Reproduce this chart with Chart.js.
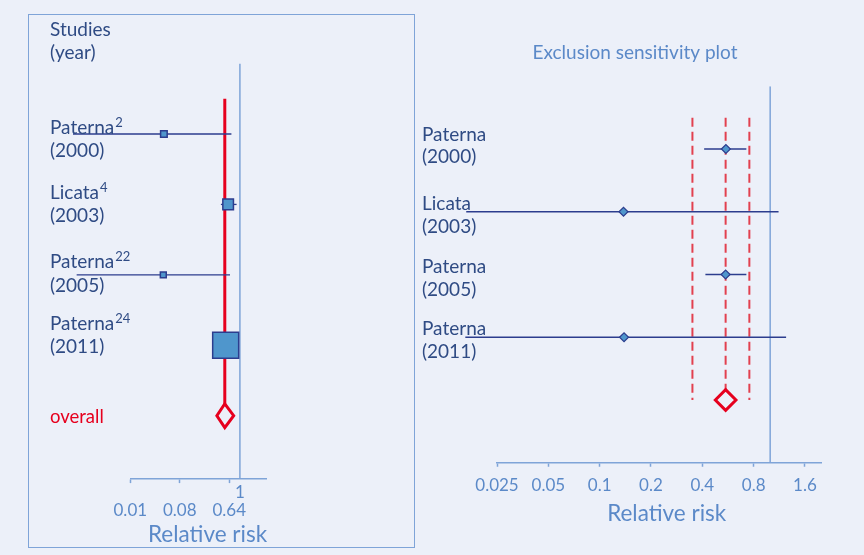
<!DOCTYPE html>
<html lang="en">
<head>
<meta charset="utf-8">
<title>Forest plot and exclusion sensitivity plot</title>
<script src="https://cdn.jsdelivr.net/npm/chart.js@4.4.1/dist/chart.umd.min.js"></script>
<style>
  html, body { margin: 0; padding: 0; background: #ECF0F9; }
  body { position: relative; width: 864px; height: 555px; overflow: hidden; }
  #frame { position: absolute; left: 28px; top: 14px; width: 387px; height: 534px;
           box-sizing: border-box; border: 1.5px solid #7FA4D8; }
  canvas { position: absolute; left: 0; top: 0; }
</style>
</head>
<body>
<div id="frame"></div>
<canvas id="forest" width="864" height="555"></canvas>
<canvas id="sensitivity" width="864" height="555"></canvas>
<script>
// Studies
const studyNames = ['Paterna', 'Licata', 'Paterna', 'Paterna'];
const studyRefs  = ['2', '4', '22', '24'];
const studyYears = ['2000', '2003', '2005', '2011'];

// Forest plot: relative risk with 95% CI and study weight (%)
const rrPoint  = [0.041, 0.61, 0.040, 0.55];
const rrLower  = [0.0009, 0.45, 0.00105, 0.42];
const rrUpper  = [0.70, 0.87, 0.66, 0.72];
const rrWeight = [5, 13, 4, 78];
const pooledPoint = 0.53;
const pooledLower = 0.38;
const pooledUpper = 0.77;

// Exclusion sensitivity: pooled RR (95% CI) with each study left out
const exclPoint = [0.55, 0.138, 0.548, 0.139];
const exclLower = [0.41, 0.0165, 0.417, 0.0163];
const exclUpper = [0.725, 1.12, 0.725, 1.24];
const exclPooledPoint = 0.548;
const exclPooledLower = 0.35;
const exclPooledUpper = 0.755;

// Axis ticks
const forestTicks = [0.01, 0.08, 0.64, 1];
const forestTickLabels = ['0.01', '0.08', '0.64', '1'];
const sensTicks = [0.025, 0.05, 0.1, 0.2, 0.4, 0.8, 1.6];
const sensTickLabels = ['0.025', '0.05', '0.1', '0.2', '0.4', '0.8', '1.6'];

// ---- styling ----
const FONT = 'Lato, "Open Sans", sans-serif';
const BG = '#ECF0F9';
const NAVY = '#2C3D8E';
const FILL = '#4F96CC';
const RED = '#E6001E';
const RED_DASH = '#E2404F';
const LINE_BLUE = '#7FA4D8';
const LABEL = '#2F4B84';
const AXIS_TEXT = '#5B89C8';

const POOLED_ROW = studyNames.length;
const DIAMOND_HALF = 0.17;   // half height of the pooled diamond, in row units

function seg(x0, y0, x1, y1) { return [{ x: x0, y: y0 }, { x: x1, y: y1 }]; }
function squareSide(w) { return 26 * Math.sqrt(w / Math.max(...rrWeight)); }

function textPlugin(items) {
  return {
    id: 'panelText',
    afterDraw(chart) {
      const ctx = chart.ctx;
      ctx.save();
      ctx.textBaseline = 'alphabetic';
      items.forEach(t => {
        ctx.font = t.size + 'px ' + FONT;
        ctx.fillStyle = t.color;
        ctx.textAlign = t.align || 'left';
        ctx.fillText(t.text, t.x, t.y);
        if (t.sup) {
          const w = ctx.measureText(t.text).width;
          ctx.font = t.supSize + 'px ' + FONT;
          ctx.fillText(t.sup, t.x + w + 1, t.y - t.supRise);
        }
      });
      ctx.restore();
    }
  };
}

function logAxis(cfg) {
  return {
    type: 'logarithmic', position: 'bottom', min: cfg.min, max: cfg.max, bounds: 'data',
    afterBuildTicks: s => { s.ticks = cfg.ticks.map(v => ({ value: v })); },
    afterFit: s => { s.height = cfg.height; },
    ticks: {
      autoSkip: false, maxRotation: 0, minRotation: 0, padding: cfg.padding, color: AXIS_TEXT,
      font: { family: FONT, size: 17, lineHeight: cfg.lineHeight },
      callback: cfg.label
    },
    grid: {
      drawOnChartArea: false, drawTicks: true, tickLength: 4, tickWidth: 1.5,
      tickColor: c => (c.tick && c.tick.value === 1) ? 'rgba(0,0,0,0)' : LINE_BLUE
    },
    border: { display: true, color: LINE_BLUE, width: 1.5 },
    title: { display: false }
  };
}

const common = {
  responsive: false, animation: false, devicePixelRatio: 1, events: [],
  plugins: { legend: { display: false }, tooltip: { enabled: false } }
};

// ---------- forest plot ----------
const forestBase = [133.7, 199, 268.3, 330];
const forestText = [
  { text: 'Studies', x: 50, y: 36.3, size: 19, color: LABEL },
  { text: '(year)', x: 50, y: 59, size: 19, color: LABEL },
  ...studyNames.flatMap((n, i) => [
    { text: n, sup: studyRefs[i], x: 50, y: forestBase[i], size: 19, supSize: 13, supRise: 7, color: LABEL },
    { text: '(' + studyYears[i] + ')', x: 50, y: forestBase[i] + 23.3, size: 19, color: LABEL }
  ]),
  { text: 'overall', x: 50, y: 423, size: 18.5, color: RED },
  { text: 'Relative risk', x: 207.5, y: 541.5, size: 22.5, color: AXIS_TEXT, align: 'center' }
];

new Chart(document.getElementById('forest'), {
  type: 'scatter',
  data: {
    datasets: [
      { // study estimates, square area by weight
        data: rrPoint.map((v, i) => ({ x: v, y: i })),
        pointStyle: 'rect',
        pointRadius: c => squareSide(rrWeight[c.dataIndex]) / Math.SQRT2,
        backgroundColor: FILL, borderColor: NAVY, borderWidth: 1.5, order: 1
      },
      { // pooled estimate diamond
        data: [
          { x: pooledLower, y: POOLED_ROW }, { x: pooledPoint, y: POOLED_ROW - DIAMOND_HALF },
          { x: pooledUpper, y: POOLED_ROW }, { x: pooledPoint, y: POOLED_ROW + DIAMOND_HALF },
          { x: pooledLower, y: POOLED_ROW }, { x: pooledPoint, y: POOLED_ROW - DIAMOND_HALF }
        ],
        showLine: true, pointRadius: 0, borderColor: RED, borderWidth: 3,
        borderJoinStyle: 'miter', fill: false, order: 0
      },
      ...rrPoint.map((_, i) => ({ // confidence intervals
        data: seg(rrLower[i], i, rrUpper[i], i),
        showLine: true, pointRadius: 0, borderColor: NAVY, borderWidth: 1.3, clip: false, order: 2
      })),
      { // pooled estimate reference line
        data: seg(pooledPoint, -0.5, pooledPoint, POOLED_ROW - DIAMOND_HALF),
        showLine: true, pointRadius: 0, borderColor: RED, borderWidth: 3, order: 3
      },
      { // line of no effect
        data: seg(1, -1, 1, 4.9),
        showLine: true, pointRadius: 0, borderColor: LINE_BLUE, borderWidth: 1.5, order: 4
      }
    ]
  },
  options: {
    ...common,
    layout: { padding: { left: 130.3, right: 864 - 266.05, top: 63.57, bottom: 0 } },
    scales: {
      x: logAxis({
        min: 0.01, max: 3, ticks: forestTicks, height: 555 - 479.1, padding: 0.8, lineHeight: 1.04,
        label: (v, i) => v === 1 ? [forestTickLabels[i], ''] : ['', forestTickLabels[i]]
      }),
      y: { type: 'linear', min: -1, max: 4.9, reverse: true, display: false }
    }
  },
  plugins: [textPlugin(forestText)]
});

// ---------- exclusion sensitivity plot ----------
const sensBase = [140.7, 210, 273.3, 335];
const sensText = [
  { text: 'Exclusion sensitivity plot', x: 635, y: 59.3, size: 19, color: AXIS_TEXT, align: 'center' },
  ...studyNames.flatMap((n, i) => [
    { text: n, x: 422, y: sensBase[i], size: 19, color: LABEL },
    { text: '(' + studyYears[i] + ')', x: 422, y: sensBase[i] + 22.7, size: 19, color: LABEL }
  ]),
  { text: 'Relative risk', x: 666.7, y: 520.5, size: 22.5, color: AXIS_TEXT, align: 'center' }
];

new Chart(document.getElementById('sensitivity'), {
  type: 'scatter',
  data: {
    datasets: [
      { // pooled estimate without each study
        data: exclPoint.map((v, i) => ({ x: v, y: i })),
        pointStyle: 'rectRot', pointRadius: 4.5,
        backgroundColor: FILL, borderColor: NAVY, borderWidth: 1.2, order: 1
      },
      { // overall pooled estimate
        data: [{ x: exclPooledPoint, y: POOLED_ROW }],
        pointStyle: 'rectRot', pointRadius: 10.3,
        backgroundColor: BG, borderColor: RED, borderWidth: 3, order: 0
      },
      ...exclPoint.map((_, i) => ({
        data: seg(exclLower[i], i, exclUpper[i], i),
        showLine: true, pointRadius: 0, borderColor: NAVY, borderWidth: 1.3, clip: false, order: 2
      })),
      ...[exclPooledLower, exclPooledPoint, exclPooledUpper].map(v => ({
        data: seg(v, -0.5, v, POOLED_ROW),
        showLine: true, pointRadius: 0, borderColor: RED_DASH, borderWidth: 2,
        borderDash: [9, 5], order: 3
      })),
      { // line of no effect
        data: seg(1, -1, 1, 5),
        showLine: true, pointRadius: 0, borderColor: LINE_BLUE, borderWidth: 1.5, order: 4
      }
    ]
  },
  options: {
    ...common,
    layout: { padding: { left: 497, right: 864 - 821.5, top: 86.25, bottom: 0 } },
    scales: {
      x: logAxis({
        min: 0.025, max: 2, ticks: sensTicks, height: 555 - 462.75, padding: 9.2, lineHeight: 1.15,
        label: (v, i) => sensTickLabels[i]
      }),
      y: { type: 'linear', min: -1, max: 5, reverse: true, display: false }
    }
  },
  plugins: [textPlugin(sensText)]
});
</script>
</body>
</html>
